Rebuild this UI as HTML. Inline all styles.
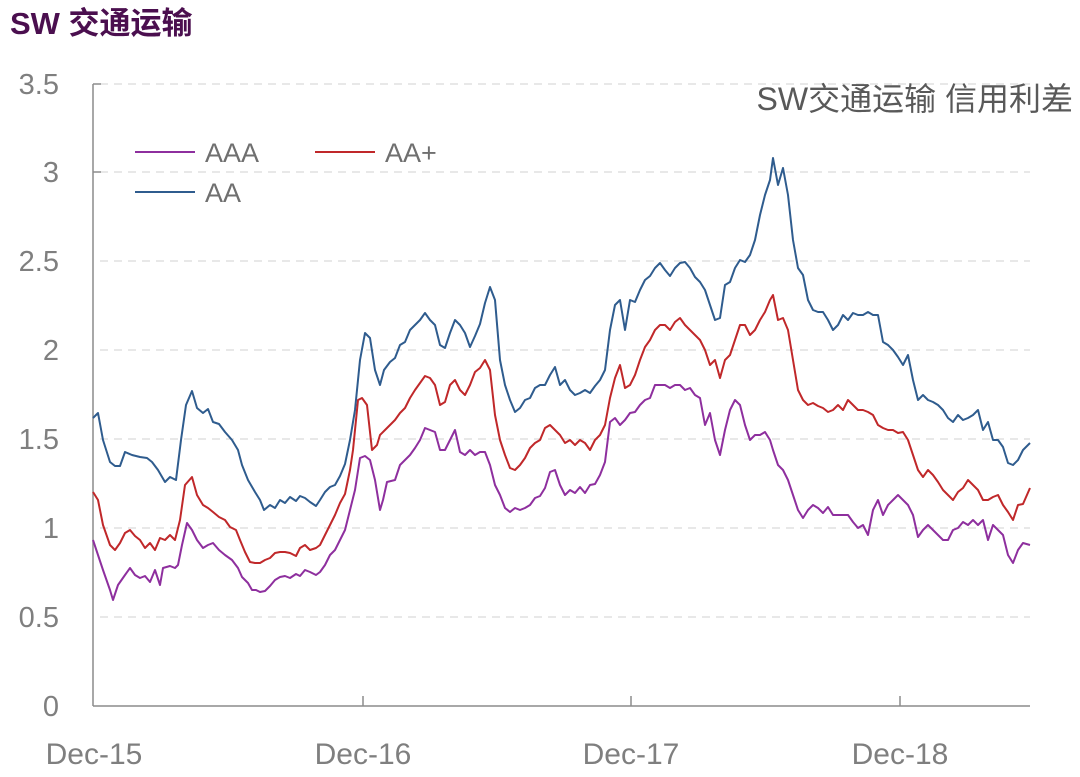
<!DOCTYPE html>
<html><head><meta charset="utf-8"><style>
body{margin:0;background:#fff}
svg text{font-family:"Liberation Sans","Noto Sans CJK SC",sans-serif}
</style></head><body>
<svg width="1080" height="772" viewBox="0 0 1080 772" xmlns="http://www.w3.org/2000/svg">
<text x="10" y="34" font-size="31" font-weight="bold" fill="#4b0f4f">SW 交通运输</text>
<g stroke="#d9d9d9" stroke-width="1.2" stroke-dasharray="8,6">
<line x1="100" y1="84" x2="1030" y2="84"/><line x1="100" y1="172" x2="1030" y2="172"/>
<line x1="100" y1="261" x2="1030" y2="261"/><line x1="100" y1="350" x2="1030" y2="350"/>
<line x1="100" y1="439" x2="1030" y2="439"/><line x1="100" y1="528" x2="1030" y2="528"/>
<line x1="100" y1="617" x2="1030" y2="617"/>
</g>
<g stroke="#8c8c8c" stroke-width="1.5" fill="none">
<line x1="93" y1="84" x2="93" y2="706"/><line x1="93" y1="706" x2="1030" y2="706"/>
<line x1="93" y1="84" x2="101" y2="84"/><line x1="93" y1="172" x2="101" y2="172"/>
<line x1="363" y1="696" x2="363" y2="706"/><line x1="631" y1="696" x2="631" y2="706"/><line x1="900" y1="696" x2="900" y2="706"/>
</g>
<g font-size="29" fill="#7f7f7f" text-anchor="end">
<text x="59" y="94">3.5</text><text x="59" y="182">3</text><text x="59" y="271">2.5</text>
<text x="59" y="360">2</text><text x="59" y="449">1.5</text><text x="59" y="538">1</text>
<text x="59" y="627">0.5</text><text x="59" y="716">0</text>
</g>
<g font-size="30" fill="#7f7f7f" text-anchor="middle">
<text x="94" y="764">Dec-15</text><text x="363" y="764">Dec-16</text><text x="631" y="764">Dec-17</text><text x="900" y="764">Dec-18</text>
</g>
<text x="1073" y="110" font-size="32" fill="#595959" text-anchor="end">SW交通运输 信用利差</text>
<g stroke-width="2"><line x1="135" y1="152" x2="195" y2="152" stroke="#8e2f9e"/><line x1="315" y1="152" x2="375" y2="152" stroke="#c0282a"/><line x1="135" y1="192" x2="195" y2="192" stroke="#2f5c8e"/></g>
<g font-size="27" fill="#6f6f6f"><text x="205" y="162">AAA</text><text x="385" y="162">AA+</text><text x="205" y="202">AA</text></g>
<g fill="none" stroke-width="2" stroke-linejoin="round">
<polyline stroke="#2f5c8e" points="93,418 98,413 103,440 110,462 115,466 120,466 125,452 132,455 140,457 147,458 152,462 158,470 165,482 170,477 176,480 181,440 186,405 192,391 197,408 203,413 208,409 213,422 219,424 225,432 232,440 238,450 242,465 248,480 255,492 260,500 264,510 270,505 275,508 280,500 285,503 290,497 296,501 300,496 305,498 310,502 316,506 320,500 325,492 330,487 335,485 340,476 345,464 350,440 355,410 360,360 365,333 370,338 375,370 380,385 384,370 390,362 395,358 400,345 405,342 410,330 415,325 420,320 425,313 430,320 435,325 440,345 445,348 450,333 455,320 460,325 465,333 470,347 475,336 480,324 485,303 490,287 495,300 500,360 505,385 510,400 515,412 520,408 525,400 530,398 535,388 540,385 545,385 550,375 555,367 560,385 565,380 570,390 575,395 580,393 585,390 590,393 595,386 600,380 605,370 610,330 615,305 620,300 625,330 630,300 635,302 640,290 645,280 650,276 655,268 660,263 665,270 670,276 675,268 680,263 685,262 690,268 695,277 700,282 705,290 710,305 715,320 720,318 725,285 730,282 735,268 740,260 745,262 750,255 755,240 760,215 765,195 770,180 773,158 778,185 783,168 788,195 793,240 798,268 803,275 808,300 813,310 818,312 823,312 828,320 833,330 838,325 843,315 848,320 853,313 858,315 863,315 868,312 873,315 878,315 883,342 888,345 893,350 898,357 903,365 908,355 913,380 918,400 923,395 928,400 933,402 938,405 943,410 948,418 953,422 958,415 963,420 968,418 973,415 978,410 983,430 988,422 993,440 998,440 1003,447 1008,463 1013,465 1018,460 1023,450 1030,443"/>
<polyline stroke="#c0282a" points="93,492 98,500 103,525 110,545 115,550 120,543 125,533 130,530 135,536 140,540 145,548 150,543 155,550 160,538 165,540 170,535 175,540 180,520 185,485 192,477 197,495 203,505 208,508 213,512 219,517 225,520 230,527 236,530 240,540 245,552 250,562 255,563 260,563 265,560 270,558 275,553 280,552 285,552 290,553 296,556 300,548 305,545 310,550 316,548 320,545 325,535 330,525 335,515 340,503 345,494 350,470 353,450 358,400 362,398 367,405 372,450 377,445 380,435 385,430 390,425 395,420 400,413 405,408 410,398 415,390 420,383 425,376 430,378 435,385 440,405 445,402 450,385 455,380 460,390 465,395 470,385 475,372 480,368 485,360 490,370 495,415 500,440 505,455 510,468 515,470 520,465 525,458 530,448 535,443 540,440 545,428 550,425 555,430 560,435 565,443 570,440 575,445 580,440 585,443 590,450 595,440 600,435 605,425 610,398 615,378 620,365 625,388 630,385 635,375 640,360 645,347 650,340 655,330 660,325 665,325 670,330 675,322 680,318 685,325 690,330 695,335 700,340 705,350 710,365 715,360 720,378 725,360 730,355 735,340 740,325 745,325 750,335 755,330 760,320 765,312 770,300 773,295 778,320 783,318 788,330 793,360 798,390 803,400 808,405 813,403 818,406 823,408 828,412 833,410 838,405 843,410 848,400 853,405 858,410 863,410 868,412 873,415 878,425 883,428 888,430 893,430 898,433 903,432 908,440 913,455 918,470 923,477 928,470 933,475 938,482 943,490 948,495 953,500 958,492 963,488 968,480 973,485 978,490 983,500 988,500 993,497 998,495 1003,505 1008,512 1013,520 1018,505 1023,504 1030,488"/>
<polyline stroke="#8e2f9e" points="93,540 98,555 103,570 110,590 113,600 118,585 125,575 130,568 135,575 140,578 145,576 150,582 155,570 160,585 163,568 170,566 175,568 178,565 182,545 187,523 192,530 197,540 203,548 208,545 213,543 219,550 225,555 232,560 238,568 242,577 248,583 252,590 256,590 260,592 265,591 270,586 275,580 280,577 285,576 290,578 296,574 300,576 305,570 310,572 316,575 320,572 325,565 330,555 335,550 340,540 345,530 350,510 355,490 360,458 365,456 370,460 375,480 380,510 383,500 387,482 395,480 400,465 405,460 410,455 415,448 420,440 425,428 430,430 435,432 440,450 445,450 450,440 455,430 460,452 465,455 470,450 475,455 480,452 485,452 490,465 495,485 500,495 505,508 510,512 515,508 520,510 525,508 530,505 535,498 540,496 545,488 550,472 555,470 560,485 565,495 570,490 575,493 580,487 585,493 590,485 595,484 600,475 605,462 610,422 615,418 620,425 625,420 630,413 635,412 640,405 645,400 650,398 655,385 660,385 665,385 670,388 675,385 680,385 685,390 690,388 695,395 700,398 705,425 710,413 715,440 720,455 725,430 730,410 735,400 740,405 745,425 750,440 755,435 760,435 765,432 770,440 773,450 778,465 783,470 788,480 793,495 798,510 803,518 808,510 813,505 818,508 823,513 828,507 833,515 838,515 843,515 848,515 853,522 858,528 863,525 868,535 873,510 878,500 883,515 888,505 893,500 898,495 903,500 908,505 913,515 918,537 923,530 928,525 933,530 938,535 943,540 948,540 953,530 958,528 963,522 968,525 973,520 978,525 983,520 988,540 993,525 998,530 1003,535 1008,555 1013,563 1018,550 1023,543 1030,545"/>
</g>
</svg>
</body></html>
